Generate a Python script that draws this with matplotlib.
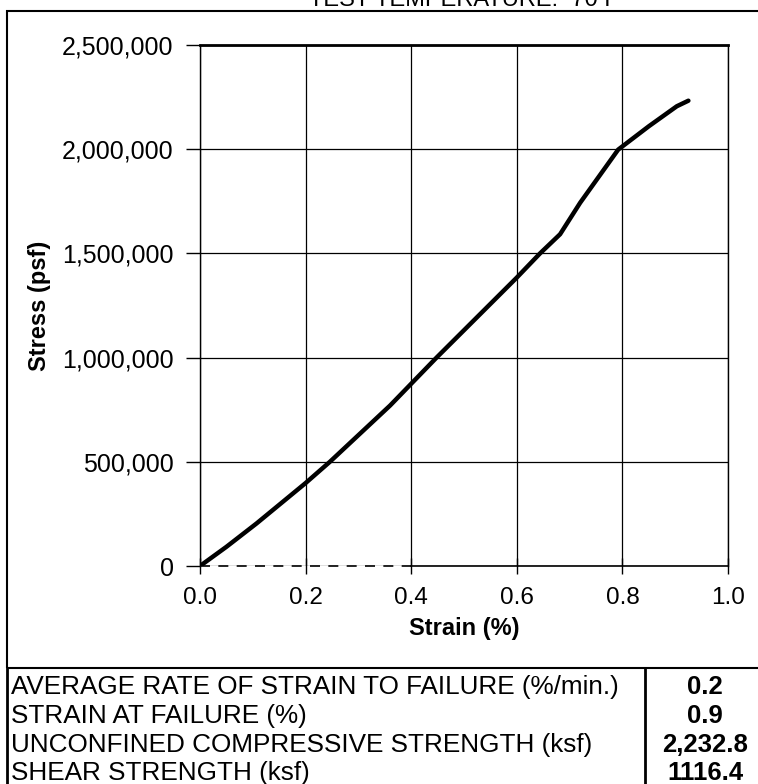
import numpy as np
import matplotlib.pyplot as plt
from matplotlib.ticker import FuncFormatter
from matplotlib.patches import Rectangle
from matplotlib.lines import Line2D

plt.rcParams['font.family'] = ['Liberation Sans', 'DejaVu Sans']

# strain (%) vs stress (psf)
strain = [0.0, 0.05, 0.107, 0.2, 0.246, 0.36, 0.448, 0.6, 0.644, 0.682,
          0.72, 0.792, 0.85, 0.903, 0.925]
stress = [0, 92000, 204000, 398000, 500000, 770000, 1000000, 1384000,
          1500000, 1592000, 1743000, 1998000, 2110000, 2206000, 2232800]

x_ticks = [0.0, 0.2, 0.4, 0.6, 0.8, 1.0]
y_ticks = [0, 500000, 1000000, 1500000, 2000000, 2500000]

rows = ["AVERAGE RATE OF STRAIN TO FAILURE (%/min.)",
        "STRAIN AT FAILURE (%)",
        "UNCONFINED COMPRESSIVE STRENGTH (ksf)",
        "SHEAR STRENGTH (ksf)"]
values = ["0.2", "0.9", "2,232.8", "1116.4"]

W, H = 758, 784
fig = plt.figure(figsize=(W / 100, H / 100), dpi=100)

def fx(px):
    return px / W

def fy(py):
    return 1 - py / H

ax = fig.add_axes([fx(200), fy(566), fx(528), (566 - 45) / H])
ax.plot(strain, stress, color='black', lw=3.2, solid_capstyle='round', zorder=5)
ax.set_xlim(0, 1.0)
ax.set_ylim(0, 2500000)
ax.set_xticks(x_ticks)
ax.set_yticks(y_ticks)
ax.xaxis.set_major_formatter(FuncFormatter(lambda v, p: f"{v:.1f}"))
ax.yaxis.set_major_formatter(FuncFormatter(lambda v, p: f"{int(v):,}"))
ax.grid(True, color='black', lw=0.9)
ax.tick_params(axis='x', direction='inout', length=12, width=1, labelsize=17.5, pad=9)
ax.tick_params(axis='y', direction='out', length=10, width=1, labelsize=18, pad=9)
for s in ax.spines.values():
    s.set_linewidth(1.0)
ax.spines['top'].set_linewidth(2.0)

# bottom edge of the scan is broken up near the origin
ax.spines['bottom'].set_visible(False)
ax.plot([0.0, 0.4], [0, 0], color='black', lw=1.2, ls=(0, (6, 5)),
        clip_on=False, zorder=4)
ax.plot([0.4, 1.0], [0, 0], color='black', lw=1.2, clip_on=False, zorder=4)

ax.set_xlabel("Strain (%)", fontsize=17, fontweight='bold', labelpad=6)
ax.set_ylabel("Stress (psf)", fontsize=17, fontweight='bold', labelpad=8)

# title cut off at the top of the scan
fig.text(fx(464), fy(0), "TEST TEMPERATURE:  70 F", ha='center', va='center',
         fontsize=17)

# outer frame and results table
fig.add_artist(Rectangle((fx(7), fy(668)), 1.0, fy(11) - fy(668),
                         fill=False, lw=1.5, color='black',
                         transform=fig.transFigure))
fig.add_artist(Line2D([fx(7), fx(7)], [fy(668), 0], color='black', lw=2.0,
                      transform=fig.transFigure))
fig.add_artist(Line2D([fx(645), fx(645)], [fy(668), 0], color='black', lw=2.0,
                      transform=fig.transFigure))

row_y = [687, 716, 745, 773]
for label, val, yy in zip(rows, values, row_y):
    fig.text(fx(11), fy(yy), label, ha='left', va='center', fontsize=18.8)
    fig.text(fx(705), fy(yy), val, ha='center', va='center', fontsize=18.5,
             fontweight='bold')

fig.savefig("out.png", dpi=100)
